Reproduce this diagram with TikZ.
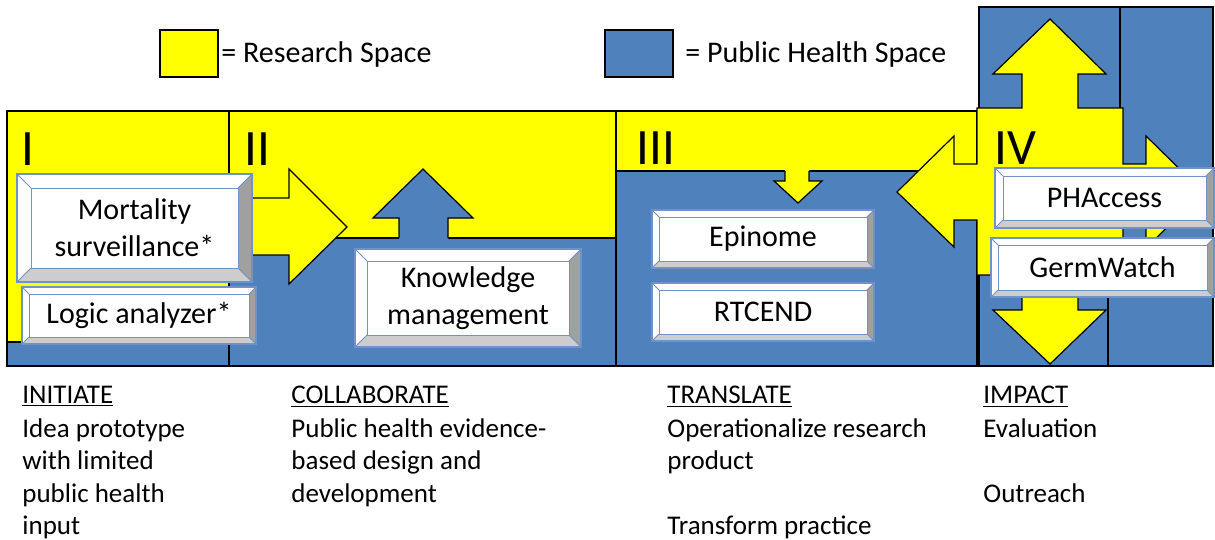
\documentclass[tikz,border=0pt]{standalone}
\usepackage{fontspec}
\setmainfont{Carlito}
\definecolor{ylw}{RGB}{255,255,0}
\definecolor{phblue}{RGB}{79,129,189}
\definecolor{bevline}{RGB}{112,146,200}
\definecolor{bevright}{RGB}{160,160,160}
\definecolor{bevbottom}{RGB}{205,205,205}
\tikzset{
  yfill/.style={fill=ylw,draw=black,line width=0.6pt,line join=miter},
  bfill/.style={fill=phblue,draw=black,line width=0.6pt,line join=miter},
  outl/.style={draw=black,line width=0.6pt,line join=miter},
  boxtext/.style={font=\fontsize{15}{18.5}\selectfont,align=center,inner sep=0pt},
  roman/.style={font=\fontsize{25.5}{30}\selectfont,anchor=base west,inner sep=0pt},
  legtext/.style={font=\fontsize{15}{18}\selectfont,anchor=base west,inner sep=0pt},
  bottext/.style={font=\fontsize{13.5}{16}\selectfont,anchor=base west,inner sep=0pt},
}
\newcommand{\bevelbx}[7]{%
  \path[fill=white] (#2,#3) rectangle (#4,#5);
  \path[fill=bevright] (#4,#3) -- (#4,#5) -- ({#4-#6},{#5-#6}) -- ({#4-#6},{#3+#6}) -- cycle;
  \path[fill=bevbottom] (#2,#5) -- (#4,#5) -- ({#4-#6},{#5-#6}) -- ({#2+#6},{#5-#6}) -- cycle;
  \draw[bevline,line width=0.6pt] (#2,#3) rectangle (#4,#5);
  \draw[bevline,line width=0.5pt] ({#2+#6},{#3+#6}) rectangle ({#4-#6},{#5-#6});
  \draw[bevline,line width=0.5pt] (#2,#3) -- ({#2+#6},{#3+#6}) (#4,#3) -- ({#4-#6},{#3+#6}) (#2,#5) -- ({#2+#6},{#5-#6}) (#4,#5) -- ({#4-#6},{#5-#6});
  \node[boxtext] (#1) at ({(#2+#4)/2},{(#3+#5)/2}) {#7};
}
\begin{document}
\begin{tikzpicture}[x=0.5pt,y=-0.5pt]
\useasboundingbox (0,0) rectangle (1215,540);
\fill[white] (0,0) rectangle (1215,540);

% legend
\draw[yfill] (160,30) rectangle (218,77);
\node[legtext] (legR) at (221,63) {= Research Space};
\draw[bfill] (605,30) rectangle (673,77);
\node[legtext] (legP) at (685,63) {= Public Health Space};

% panel I
\draw[bfill] (7,111) rectangle (229,366);
\draw[yfill] (7,111) rectangle (229,342);
% panel II
\draw[bfill] (229,111) rectangle (616,366);
\draw[yfill] (229,111) rectangle (616,238);
% panel III
\draw[bfill] (616,111) rectangle (977,366);
\draw[yfill] (616,111) rectangle (977,171);
% panel IV background
\draw[bfill] (979,7) rectangle (1213,366);
\draw[outl] (1120,7) -- (1120,108);
\draw[outl] (1108,298) -- (1108,366);

% yellow right arrow (panel II)
\draw[yfill] (235,198) -- (289,198) -- (289,169) -- (347,227) -- (289,284) -- (289,255) -- (235,255) -- cycle;
% blue up arrow (panel II)
\fill[phblue] (399,239) -- (399,218) -- (373,218) -- (423,169) -- (473,218) -- (448,218) -- (448,239) -- cycle;
\draw[outl] (399,238) -- (399,218) -- (373,218) -- (423,169) -- (473,218) -- (448,218) -- (448,238);
% yellow down arrow (panel III)
\fill[ylw] (785,170) -- (785,181) -- (774,181) -- (798,203) -- (822,181) -- (809,181) -- (809,170) -- cycle;
\draw[outl] (785,171) -- (785,181) -- (774,181) -- (798,203) -- (822,181) -- (809,181) -- (809,171);

% yellow four-way arrow (panel IV)
\draw[yfill] (977,108) -- (1022,108) -- (1022,74) -- (993,74) -- (1050,19) -- (1106,74) -- (1078,74) -- (1078,108)
  -- (1123,108) -- (1123,164) -- (1146,164) -- (1146,136) -- (1203,192) -- (1146,248) -- (1146,220) -- (1123,220)
  -- (1123,275) -- (1078,275) -- (1078,310) -- (1106,310) -- (1050,364) -- (993,310) -- (1022,310) -- (1022,275)
  -- (977,275) -- (977,220) -- (954,220) -- (954,247) -- (897,192) -- (954,136) -- (954,164) -- (977,164) -- cycle;

% roman numerals
\node[roman] (r1) at (21,165) {I};
\node[roman] (r2) at (244,165) {II};
\node[roman] (r3) at (636,164) {III};
\node[roman] (r4) at (994,164) {IV};

% bevel boxes
\bevelbx{mort}{17}{174}{252}{282}{14}{Mortality\\surveillance*}
\bevelbx{logic}{22}{287}{256}{344}{7}{Logic analyzer*}
\bevelbx{know}{355}{249}{581}{347}{12}{Knowledge\\management}
\bevelbx{epi}{652}{210}{874}{268}{7}{Epinome}
\bevelbx{rtc}{652}{283}{874}{341}{7}{RTCEND}
\bevelbx{pha}{995}{168}{1214}{228}{8}{PHAccess}
\bevelbx{germ}{991}{238}{1214}{297}{7}{GermWatch}

% bottom text
\node[bottext] (h1) at (22,403) {\underline{INITIATE}};
\node[bottext] (a1) at (22,437) {Idea prototype};
\node[bottext] (a2) at (22,469.5) {with limited};
\node[bottext] (a3) at (22,502) {public health};
\node[bottext] (a4) at (22,534.5) {input};

\node[bottext] (h2) at (291,403) {\underline{COLLABORATE}};
\node[bottext] (b1) at (291,437) {Public health evidence-};
\node[bottext] (b2) at (291,469.5) {based design and};
\node[bottext] (b3) at (291,502) {development};

\node[bottext] (h3) at (667,403) {\underline{TRANSLATE}};
\node[bottext] (c1) at (667,437) {Operationalize research};
\node[bottext] (c2) at (667,469.5) {product};
\node[bottext] (c3) at (667,534.5) {Transform practice};

\node[bottext] (h4) at (983,403) {\underline{IMPACT}};
\node[bottext] (d1) at (983,437) {Evaluation};
\node[bottext] (d2) at (983,502) {Outreach};
\end{tikzpicture}
\end{document}
